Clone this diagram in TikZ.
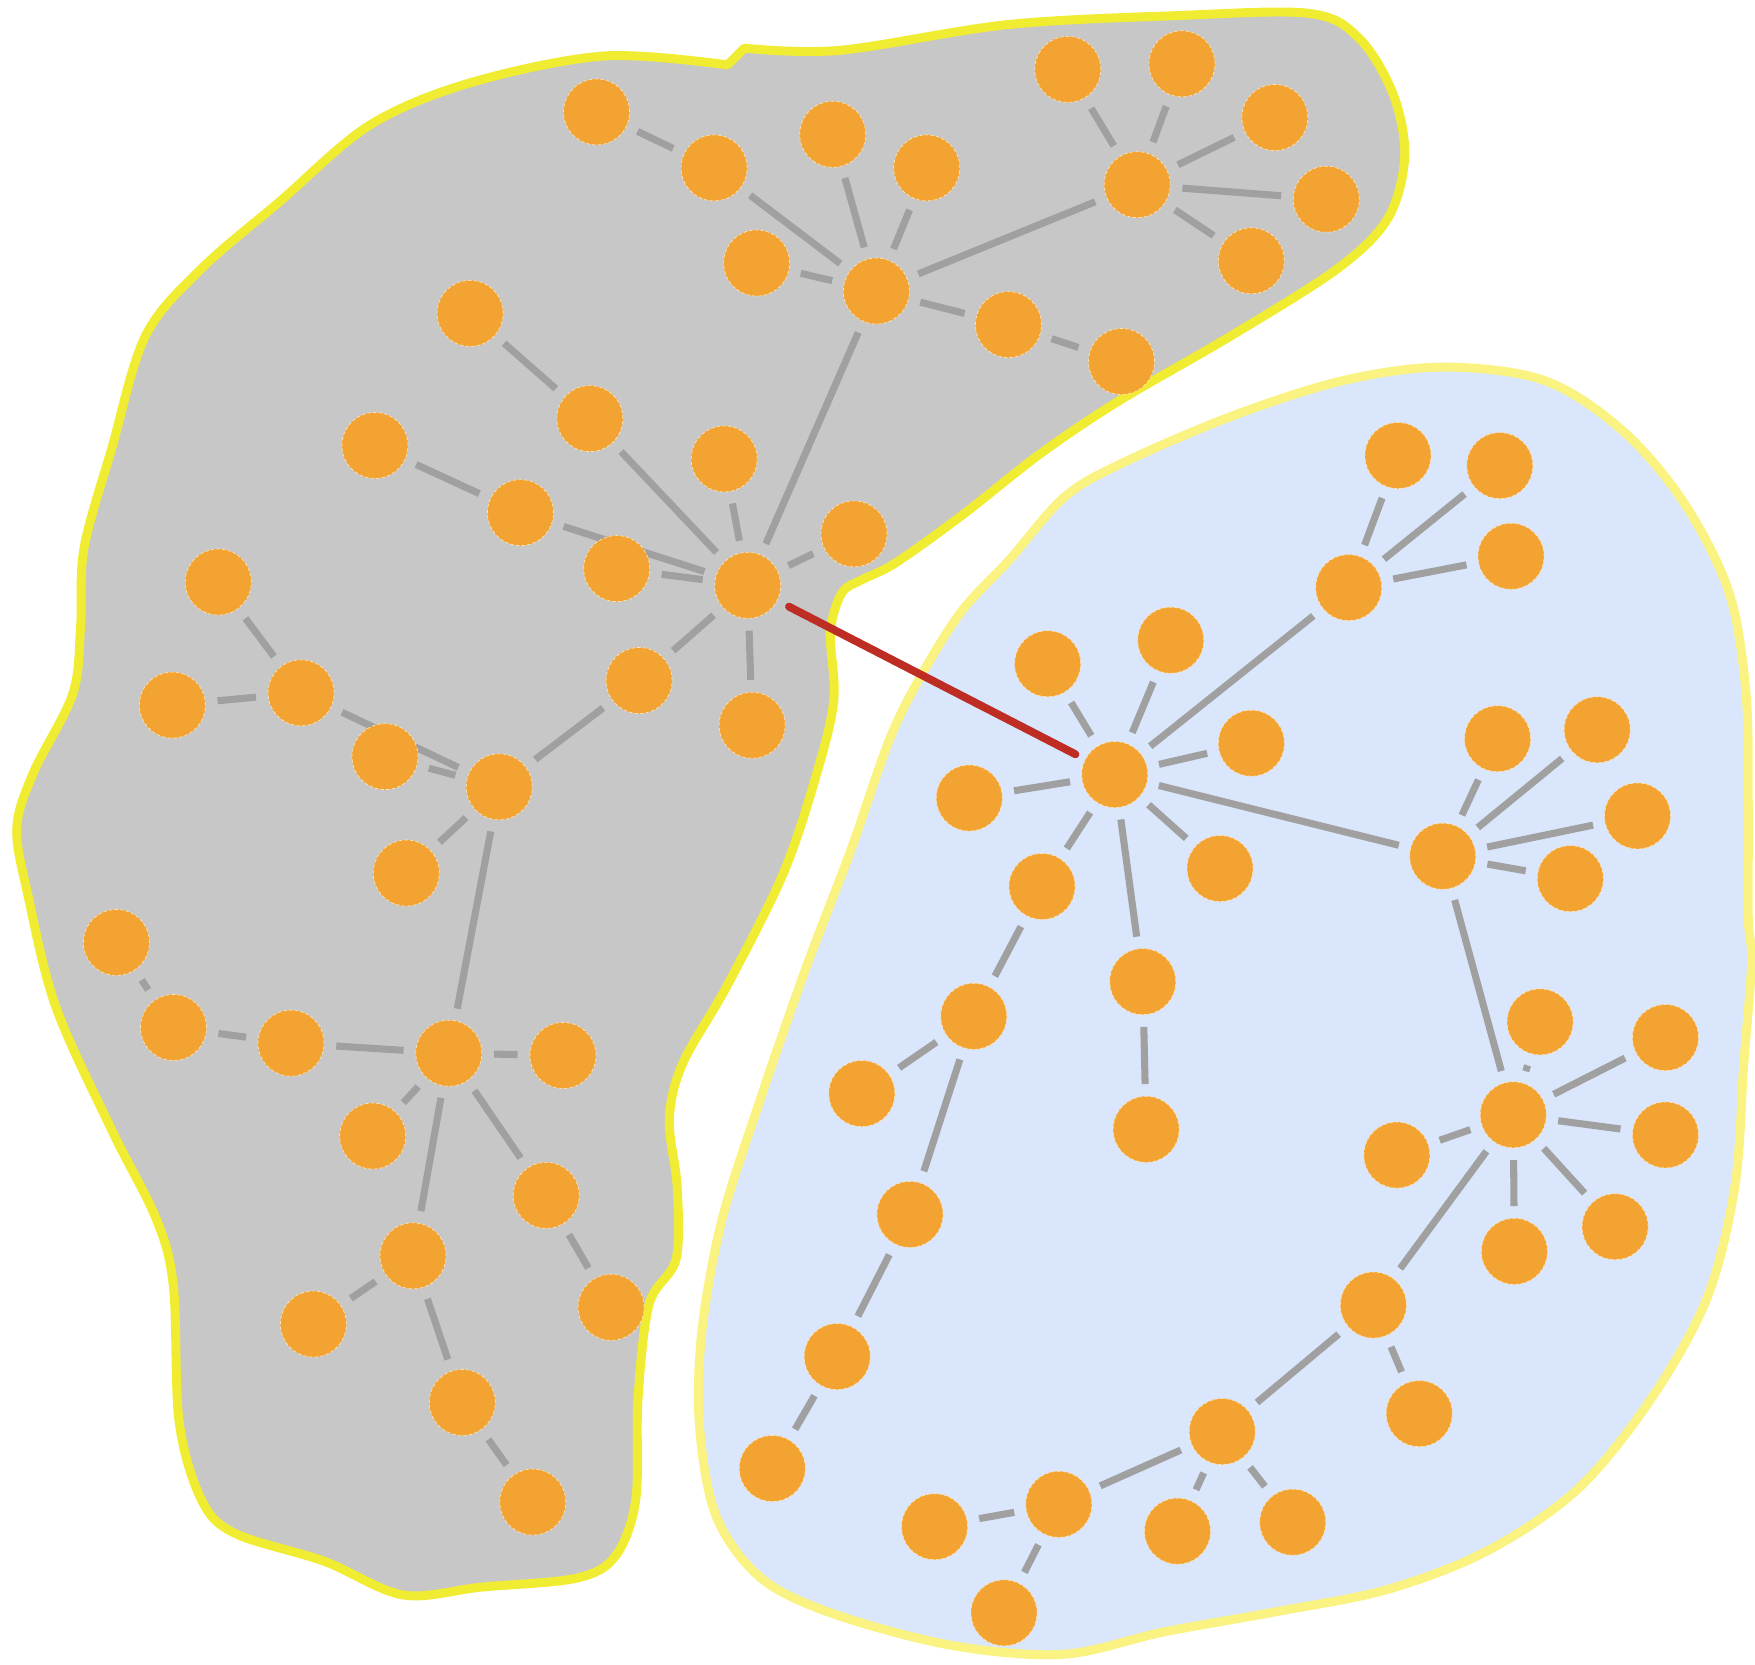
\documentclass[tikz,border=0pt]{standalone}
\usepackage{xcolor}
\usepackage{tikz}

\definecolor{blobgray}{RGB}{199,199,199}
\definecolor{rimyellow}{RGB}{240,236,50}
\definecolor{blobblue}{RGB}{217,230,251}
\definecolor{rimpale}{RGB}{250,243,130}
\definecolor{dotorange}{RGB}{243,163,50}
\definecolor{dotrim}{RGB}{255,228,180}
\definecolor{linkgray}{RGB}{160,160,160}
\definecolor{bridgered}{RGB}{190,45,35}

\pgfdeclarelayer{groups}
\pgfdeclarelayer{links}
\pgfsetlayers{groups,links,main}

\begin{document}
\begin{tikzpicture}[
        x=1pt, y=-1pt,
        dot/.style={circle, fill=dotorange, draw=dotrim, densely dashed, line width=0.6pt, minimum size=59pt, inner sep=0pt, outer sep=0pt},
        link/.style={draw=linkgray, line width=6.3pt, shorten <=11pt, shorten >=11pt},
        bridge/.style={draw=bridgered, line width=7pt, line cap=round, shorten <=12pt, shorten >=10pt},
        blob/.style={fill=blobgray, draw=rimyellow, line width=8pt, line join=round},
        pond/.style={fill=blobblue, draw=rimpale, line width=8pt, line join=round}
    ]
    \useasboundingbox (0,0) rectangle (1568,1487);

    % the two groups
    \begin{pgfonlayer}{groups}
    \path[blob] plot[smooth, tension=0.55] coordinates {
        (665,43) (750,45) (900,22) (1050,14) (1170,12)
        (1215,35) (1245,85) (1255,140) (1240,195) (1195,240) (1100,300) (1000,358) (930,405) (860,460)
        (800,503) (770,518) (752,530) (742,565) (745,625) (730,690) (700,780) (650,880) (610,950)
        (598,1000) (605,1060) (604,1125) (580,1165) (570,1250) (568,1340) (550,1390) (515,1410)
        (430,1418) (360,1425) (290,1395) (210,1370) (180,1340) (160,1270) (155,1150) (140,1090)
        (100,1010) (50,900) (25,800) (15,740) (30,690) (65,620) (72,560) (75,490) (100,400) (130,300)
        (180,240) (250,180) (330,112) (420,74) (540,50) (650,58)} -- cycle;
    \path[pond] plot[smooth cycle, tension=0.55] coordinates {
        (902,500) (950,445) (1000,415) (1100,372) (1200,340) (1290,328) (1380,340) (1450,385)
        (1505,450) (1545,530) (1560,620) (1562,720) (1562,820) (1565,860) (1558,950) (1550,1060)
        (1525,1160) (1475,1250) (1410,1330) (1330,1385) (1240,1420) (1140,1440) (1040,1458)
        (950,1478) (850,1470) (745,1442) (680,1410) (640,1355) (625,1275) (627,1190) (645,1090)
        (680,980) (720,865) (760,760) (795,660) (825,600) (860,545)};
    \end{pgfonlayer}

    % gray group, top
    \node[dot] (hubtop) at (783,260) {};
    \node[dot] (t1) at (533,100) {};
    \node[dot] (t2) at (638,150) {};
    \node[dot] (t3) at (744,120) {};
    \node[dot] (t4) at (828,150) {};
    \node[dot] (t5) at (676,235) {};
    \node[dot] (t6) at (901,290) {};
    \node[dot] (t7) at (1002,323) {};
    \node[dot] (hubstar) at (1016,165) {};
    \node[dot] (s1) at (954,62) {};
    \node[dot] (s2) at (1056,57) {};
    \node[dot] (s3) at (1139,105) {};
    \node[dot] (s4) at (1185,178) {};
    \node[dot] (s5) at (1118,233) {};

    % gray group, middle
    \node[dot] (hubmid) at (668,523) {};
    \node[dot] (m1) at (420,280) {};
    \node[dot] (m2) at (527,374) {};
    \node[dot] (m3) at (335,398) {};
    \node[dot] (m4) at (465,458) {};
    \node[dot] (m5) at (551,508) {};
    \node[dot] (m6) at (647,410) {};
    \node[dot] (m7) at (763,477) {};
    \node[dot] (m8) at (571,608) {};
    \node[dot] (m9) at (672,648) {};

    \node[dot] (hubleft) at (446,703) {};
    \node[dot] (l1) at (195,520) {};
    \node[dot] (l2) at (269,619) {};
    \node[dot] (l3) at (154,630) {};
    \node[dot] (l4) at (344,676) {};
    \node[dot] (l5) at (363,780) {};

    % gray group, bottom
    \node[dot] (hublow) at (401,941) {};
    \node[dot] (b1) at (104,842) {};
    \node[dot] (b2) at (155,918) {};
    \node[dot] (b3) at (260,932) {};
    \node[dot] (b4) at (503,943) {};
    \node[dot] (b5) at (333,1015) {};
    \node[dot] (b6) at (488,1068) {};
    \node[dot] (b7) at (546,1168) {};
    \node[dot] (b8) at (369,1122) {};
    \node[dot] (b9) at (280,1183) {};
    \node[dot] (b10) at (413,1253) {};
    \node[dot] (b11) at (476,1342) {};

    % blue group
    \node[dot] (hubblue) at (996,692) {};
    \node[dot] (g1) at (936,593) {};
    \node[dot] (g2) at (1046,572) {};
    \node[dot] (g3) at (1118,664) {};
    \node[dot] (g4) at (866,713) {};
    \node[dot] (g5) at (1090,776) {};
    \node[dot] (g6) at (931,792) {};
    \node[dot] (g7) at (1021,877) {};
    \node[dot] (g8) at (1024,1009) {};
    \node[dot] (g9) at (870,908) {};
    \node[dot] (g10) at (770,977) {};
    \node[dot] (g11) at (813,1085) {};
    \node[dot] (g12) at (748,1212) {};
    \node[dot] (g13) at (690,1312) {};

    \node[dot] (hubfan) at (1205,525) {};
    \node[dot] (f1) at (1249,407) {};
    \node[dot] (f2) at (1340,416) {};
    \node[dot] (f3) at (1350,497) {};

    \node[dot] (hubright) at (1289,765) {};
    \node[dot] (r1) at (1338,660) {};
    \node[dot] (r2) at (1427,652) {};
    \node[dot] (r3) at (1463,729) {};
    \node[dot] (r4) at (1403,785) {};

    \node[dot] (hubsun) at (1352,996) {};
    \node[dot] (k1) at (1376,913) {};
    \node[dot] (k2) at (1488,927) {};
    \node[dot] (k3) at (1248,1032) {};
    \node[dot] (k4) at (1488,1014) {};
    \node[dot] (k5) at (1353,1118) {};
    \node[dot] (k6) at (1443,1096) {};

    \node[dot] (w1) at (1227,1166) {};
    \node[dot] (w2) at (1268,1263) {};
    \node[dot] (w3) at (1092,1279) {};
    \node[dot] (w4) at (1052,1368) {};
    \node[dot] (w5) at (1155,1360) {};
    \node[dot] (w6) at (946,1344) {};
    \node[dot] (w7) at (835,1364) {};
    \node[dot] (w8) at (897,1441) {};

    % links
    \begin{pgfonlayer}{links}
    \foreach \a/\b in {t1/t2, t2/hubtop, t3/hubtop, t4/hubtop, t5/hubtop, hubtop/t6, t6/t7,
        hubtop/hubstar, hubstar/s1, hubstar/s2, hubstar/s3, hubstar/s4, hubstar/s5, hubtop/hubmid,
        m1/m2, m2/hubmid, m3/m4, m4/hubmid, m5/hubmid, m6/hubmid, m7/hubmid, hubmid/m8, hubmid/m9,
        m8/hubleft, l1/l2, l3/l2, l2/hubleft, l4/hubleft, l5/hubleft, hubleft/hublow,
        b1/b2, b2/b3, b3/hublow, hublow/b4, hublow/b5, hublow/b6, b6/b7, hublow/b8,
        b8/b9, b8/b10, b10/b11}
        \draw[link] (\a) -- (\b);

    \foreach \a/\b in {hubblue/g1, hubblue/g2, hubblue/g3, hubblue/g4, hubblue/g5, hubblue/g6,
        hubblue/g7, g7/g8, g6/g9, g9/g10, g9/g11, g11/g12, g12/g13,
        hubblue/hubfan, hubfan/f1, hubfan/f2, hubfan/f3,
        hubblue/hubright, hubright/r1, hubright/r2, hubright/r3, hubright/r4, hubright/hubsun,
        hubsun/k1, hubsun/k2, hubsun/k3, hubsun/k4, hubsun/k5, hubsun/k6, hubsun/w1,
        w1/w2, w1/w3, w3/w4, w3/w5, w3/w6, w6/w7, w6/w8}
        \draw[link] (\a) -- (\b);

    \draw[bridge] (hubmid) -- (hubblue);
    \end{pgfonlayer}
\end{tikzpicture}
\end{document}
